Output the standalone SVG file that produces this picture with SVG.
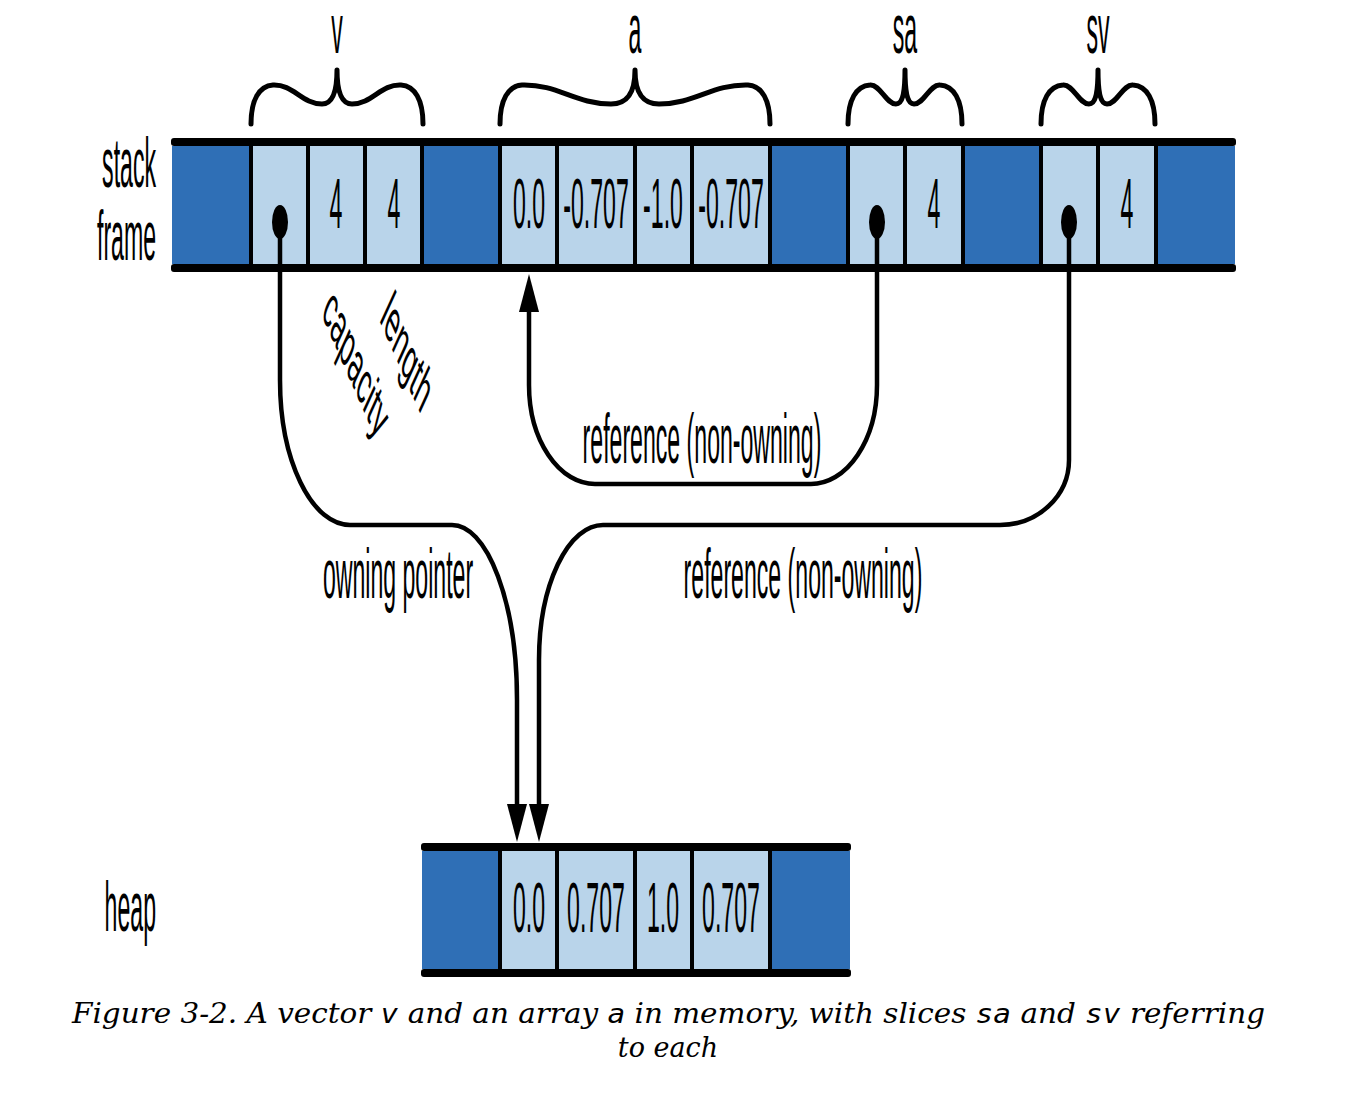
<svg xmlns="http://www.w3.org/2000/svg" width="1364" height="1094" viewBox="0 0 1364 1094">
<style>
.t{font-family:"Liberation Sans",Arial,sans-serif;font-size:70px;fill:#000;text-anchor:middle}
.te{font-family:"Liberation Sans",Arial,sans-serif;font-size:70px;fill:#000;text-anchor:end}
.tl{font-family:"Liberation Sans",Arial,sans-serif;font-size:70px;fill:#000;text-anchor:start}
.dark{fill:#2F6FB6}
.light{fill:#B9D4EA}
.bar{fill:#000}
.div{stroke:#000;stroke-width:4}
.brace{fill:none;stroke:#000;stroke-width:5;stroke-linecap:round;stroke-linejoin:round}
.conn{fill:none;stroke:#000;stroke-width:4.5}
.cap{font-family:"DejaVu Serif","Liberation Serif",serif;font-style:italic;font-size:27px;fill:#000}
.code{font-family:"DejaVu Sans Mono","Liberation Mono",monospace;font-style:italic}
</style>
<defs>
<marker id="arr" markerUnits="userSpaceOnUse" viewBox="0 0 38 20" markerWidth="38" markerHeight="20" refX="1" refY="10" orient="auto">
<path d="M0,0 L38,10 L0,20 z" fill="#000"/>
</marker>
</defs>

<g id="labels-left">
<text class="te" transform="translate(156,187) scale(0.33,1)">stack</text>
<text class="te" transform="translate(156,260) scale(0.33,1)">frame</text>
<text class="te" transform="translate(156,931) scale(0.33,1)">heap</text>
</g>

<g id="stack-frame">
<rect class="dark" x="172" y="146" width="78" height="118"/>
<rect class="light" x="250" y="146" width="172" height="118"/>
<rect class="dark" x="422" y="146" width="78" height="118"/>
<rect class="light" x="500" y="146" width="270" height="118"/>
<rect class="dark" x="770" y="146" width="78" height="118"/>
<rect class="light" x="848" y="146" width="115" height="118"/>
<rect class="dark" x="963" y="146" width="78" height="118"/>
<rect class="light" x="1041" y="146" width="115" height="118"/>
<rect class="dark" x="1156" y="146" width="79" height="118"/>
<g>
<line class="div" x1="251" y1="146" x2="251" y2="264"/>
<line class="div" x1="308" y1="146" x2="308" y2="264"/>
<line class="div" x1="365" y1="146" x2="365" y2="264"/>
<line class="div" x1="422" y1="146" x2="422" y2="264"/>
<line class="div" x1="500" y1="146" x2="500" y2="264"/>
<line class="div" x1="557" y1="146" x2="557" y2="264"/>
<line class="div" x1="635" y1="146" x2="635" y2="264"/>
<line class="div" x1="692" y1="146" x2="692" y2="264"/>
<line class="div" x1="770" y1="146" x2="770" y2="264"/>
<line class="div" x1="848" y1="146" x2="848" y2="264"/>
<line class="div" x1="905" y1="146" x2="905" y2="264"/>
<line class="div" x1="963" y1="146" x2="963" y2="264"/>
<line class="div" x1="1041" y1="146" x2="1041" y2="264"/>
<line class="div" x1="1098" y1="146" x2="1098" y2="264"/>
<line class="div" x1="1156" y1="146" x2="1156" y2="264"/>
</g>
<rect class="bar" x="171" y="138" width="1065" height="8" rx="3"/>
<rect class="bar" x="171" y="264" width="1065" height="8" rx="3"/>
</g>

<g id="v">
<path class="brace" d="M251,124 C251,100 259,86 273,85 C293,84 302,104 322,104 C331,104 337,95 337,70 C337,95 343,104 352,104 C372,104 381,84 401,85 C415,86 423,100 423,124"/>
<text class="t" transform="translate(337,53) scale(0.33,1)">v</text>
<ellipse cx="280" cy="222" rx="8" ry="17"/>
<text class="t" transform="translate(336,228) scale(0.33,1)">4</text>
<text class="t" transform="translate(394,228) scale(0.33,1)">4</text>
<text class="tl" transform="matrix(0.22,0.5,-0.3,0.66,379,320)">length</text>
<text class="tl" transform="matrix(0.22,0.5,-0.3,0.66,321,314)">capacity</text>
</g>

<g id="a">
<path class="brace" d="M500,124 C500,100 508,86 522,85 C558,84 575,104 611,104 C626,104 635,95 635,70 C635,95 644,104 659,104 C695,104 712,84 748,85 C762,86 770,100 770,124"/>
<text class="t" transform="translate(635,53) scale(0.33,1)">a</text>
<text class="t" transform="translate(529,228) scale(0.33,1)">0.0</text>
<text class="t" transform="translate(596,228) scale(0.33,1)">-0.707</text>
<text class="t" transform="translate(663,228) scale(0.33,1)">-1.0</text>
<text class="t" transform="translate(731,228) scale(0.33,1)">-0.707</text>
</g>

<g id="sa">
<path class="brace" d="M848,124 C848,100 856,86 870,85 C880,84 886,104 896,104 C902,104 905,95 905,70 C905,95 908,104 914,104 C924,104 930,84 940,85 C954,86 962,100 962,124"/>
<text class="t" transform="translate(905,53) scale(0.33,1)">sa</text>
<ellipse cx="877" cy="222" rx="8" ry="17"/>
<text class="t" transform="translate(934,228) scale(0.33,1)">4</text>
</g>

<g id="sv">
<path class="brace" d="M1041,124 C1041,100 1049,86 1063,85 C1073,84 1079,104 1089,104 C1095,104 1098,95 1098,70 C1098,95 1101,104 1107,104 C1117,104 1123,84 1133,85 C1147,86 1155,100 1155,124"/>
<text class="t" transform="translate(1098,53) scale(0.33,1)">sv</text>
<ellipse cx="1069" cy="222" rx="8" ry="17"/>
<text class="t" transform="translate(1127,228) scale(0.33,1)">4</text>
</g>

<g id="heap">
<rect class="dark" x="422" y="851" width="78" height="118"/>
<rect class="light" x="500" y="851" width="270" height="118"/>
<rect class="dark" x="770" y="851" width="80" height="118"/>
<line class="div" x1="500" y1="851" x2="500" y2="969"/>
<line class="div" x1="557" y1="851" x2="557" y2="969"/>
<line class="div" x1="635" y1="851" x2="635" y2="969"/>
<line class="div" x1="692" y1="851" x2="692" y2="969"/>
<line class="div" x1="770" y1="851" x2="770" y2="969"/>
<rect class="bar" x="421" y="843" width="430" height="8" rx="3"/>
<rect class="bar" x="421" y="969" width="430" height="8" rx="3"/>
<text class="t" transform="translate(529,932) scale(0.33,1)">0.0</text>
<text class="t" transform="translate(596,932) scale(0.33,1)">0.707</text>
<text class="t" transform="translate(663,932) scale(0.33,1)">1.0</text>
<text class="t" transform="translate(731,932) scale(0.33,1)">0.707</text>
</g>

<g id="connectors">
<path class="conn" marker-end="url(#arr)" d="M280,222 L280,380 A70,145 0 0 0 350,525 L452,525 A65,175 0 0 1 517,700 L517,805"/>
<path class="conn" marker-end="url(#arr)" d="M1069,222 L1069,460 A69,65 0 0 1 1000,525 L603,525 A64,135 0 0 0 539,660 L539,805"/>
<path class="conn" marker-end="url(#arr)" d="M877,222 L877,385 A66,99 0 0 1 811,484 L595,484 A66,99 0 0 1 529,385 L529,311"/>
<text class="t" transform="translate(702,463) scale(0.33,1)">reference (non-owning)</text>
<text class="t" transform="translate(398,598) scale(0.33,1)">owning pointer</text>
<text class="t" transform="translate(803,598) scale(0.33,1)">reference (non-owning)</text>
</g>

<g id="caption">
<text class="cap" x="72" y="1023" textLength="1193" lengthAdjust="spacingAndGlyphs">Figure 3-2. A vector <tspan class="code">v</tspan> and an array <tspan class="code">a</tspan> in memory, with slices <tspan class="code">sa</tspan> and <tspan class="code">sv</tspan> referring</text>
<text class="cap" x="668" y="1057" text-anchor="middle">to each</text>
</g>
</svg>
